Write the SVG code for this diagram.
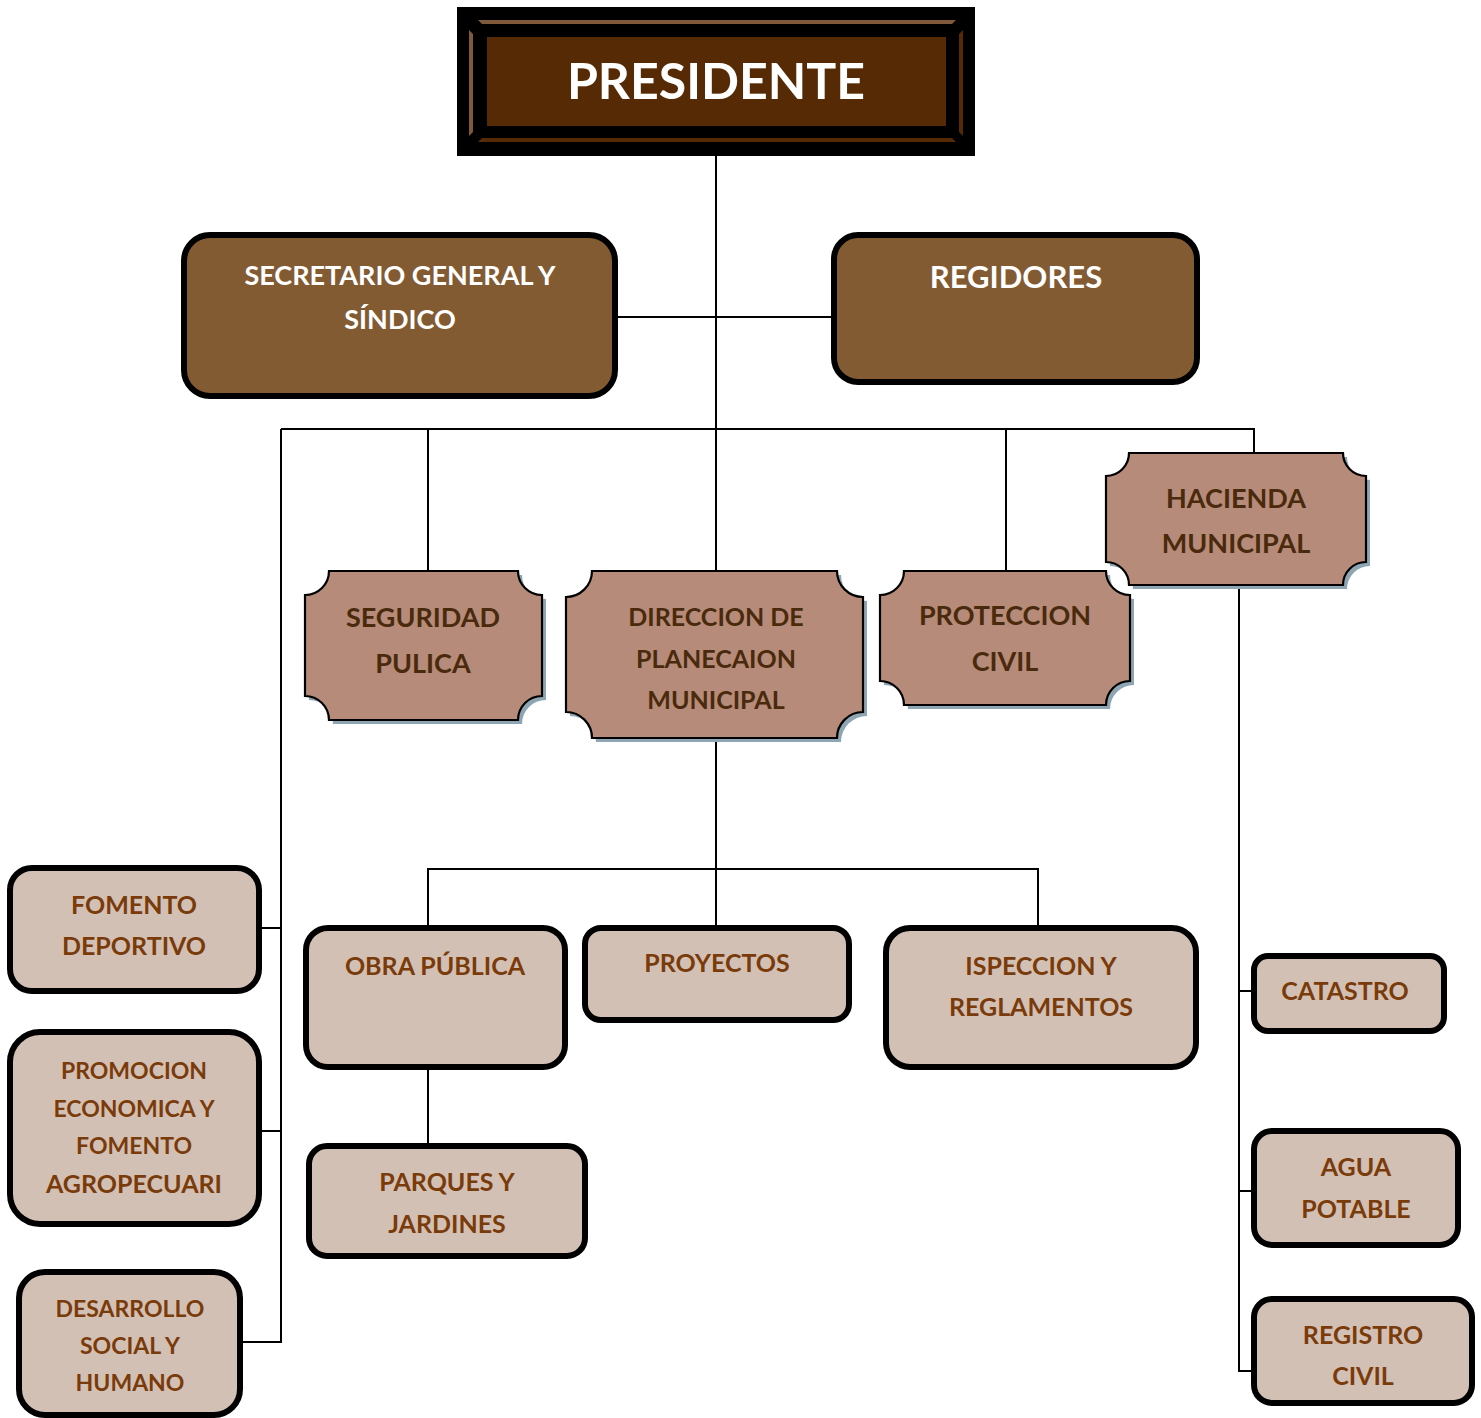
<svg xmlns="http://www.w3.org/2000/svg" width="1481" height="1418" viewBox="0 0 1481 1418">
<style>
text{font-family:Lato,"Open Sans","Liberation Sans",sans-serif;font-weight:bold;text-anchor:middle}
.dark{fill:#835B33;stroke:#000;stroke-width:6}
.lt{fill:#D3C0B5;stroke:#000;stroke-width:6}
.pl{fill:#B68B79;stroke:#000;stroke-width:2.2}
.sh{fill:#8EA6B3}
.w{fill:#fff}
.db{fill:#4A2A0C}
.lb{fill:#7A3B0A}
#connectors path{fill:none;stroke:#000;stroke-width:2}
</style>
<rect width="1481" height="1418" fill="#fff"/>
<g id="connectors">
<path d="M716 156V571"/>
<path d="M615 317H834"/>
<path d="M281 429H1254V453"/>
<path d="M428 429V571"/>
<path d="M1006 429V571"/>
<path d="M281 429V1342H240"/>
<path d="M260 928H281"/>
<path d="M260 1131H281"/>
<path d="M716 738V928"/>
<path d="M428 928V869H1038V928"/>
<path d="M428 1067V1146"/>
<path d="M1239 585V1371H1254"/>
<path d="M1239 991H1254"/>
<path d="M1239 1191H1254"/>
</g>
<g id="presidente">
<rect x="457" y="7" width="518" height="149" fill="#000"/>
<polygon points="478,20 956,20 952,24 482,24" fill="#7F5A3A"/>
<polygon points="469,30 473,34 473,132 469,136" fill="#7F5A3A"/>
<polygon points="963,30 959,34 959,132 963,136" fill="#552A04"/>
<polygon points="482,138 952,138 956,142 478,142" fill="#552A04"/>
<rect x="487" y="37" width="459" height="89" fill="#552A04"/>
<text x="716" y="99" font-size="50" class="w">PRESIDENTE</text>
</g>
<g id="secretario">
<rect x="184" y="235" width="431" height="161" rx="26" class="dark"/>
<text x="400" y="285" font-size="27" class="w">SECRETARIO GENERAL Y</text>
<text x="400" y="329" font-size="27" class="w">SÍNDICO</text>
</g>
<g id="regidores">
<rect x="834" y="235" width="363" height="147" rx="24" class="dark"/>
<text x="1016" y="288" font-size="31" class="w">REGIDORES</text>
</g>
<g id="seguridad">
<path class="sh" transform="translate(4,4)" d="M329 571H518A24 24 0 0 0 542 595V696A24 24 0 0 0 518 720H329A24 24 0 0 0 305 696V595A24 24 0 0 0 329 571Z"/>
<path class="pl" d="M329 571H518A24 24 0 0 0 542 595V696A24 24 0 0 0 518 720H329A24 24 0 0 0 305 696V595A24 24 0 0 0 329 571Z"/>
<text x="423" y="627" font-size="27" class="db">SEGURIDAD</text>
<text x="423" y="673" font-size="27" class="db">PULICA</text>
</g>
<g id="direccion">
<path class="sh" transform="translate(4,4)" d="M592 571H837A26 26 0 0 0 863 597V712A26 26 0 0 0 837 738H592A26 26 0 0 0 566 712V597A26 26 0 0 0 592 571Z"/>
<path class="pl" d="M592 571H837A26 26 0 0 0 863 597V712A26 26 0 0 0 837 738H592A26 26 0 0 0 566 712V597A26 26 0 0 0 592 571Z"/>
<text x="716" y="626" font-size="25" class="db">DIRECCION DE</text>
<text x="716" y="668" font-size="25" class="db">PLANECAION</text>
<text x="716" y="709" font-size="25" class="db">MUNICIPAL</text>
</g>
<g id="proteccion">
<path class="sh" transform="translate(4,4)" d="M904 571H1106A24 24 0 0 0 1130 595V681A24 24 0 0 0 1106 705H904A24 24 0 0 0 880 681V595A24 24 0 0 0 904 571Z"/>
<path class="pl" d="M904 571H1106A24 24 0 0 0 1130 595V681A24 24 0 0 0 1106 705H904A24 24 0 0 0 880 681V595A24 24 0 0 0 904 571Z"/>
<text x="1005" y="625" font-size="27" class="db">PROTECCION</text>
<text x="1005" y="671" font-size="27" class="db">CIVIL</text>
</g>
<g id="hacienda">
<path class="sh" transform="translate(4,4)" d="M1129 453H1343A23 23 0 0 0 1366 476V562A23 23 0 0 0 1343 585H1129A23 23 0 0 0 1106 562V476A23 23 0 0 0 1129 453Z"/>
<path class="pl" d="M1129 453H1343A23 23 0 0 0 1366 476V562A23 23 0 0 0 1343 585H1129A23 23 0 0 0 1106 562V476A23 23 0 0 0 1129 453Z"/>
<text x="1236" y="508" font-size="27" class="db">HACIENDA</text>
<text x="1236" y="553" font-size="27" class="db">MUNICIPAL</text>
</g>
<g id="fomento">
<rect x="10" y="868" width="249" height="123" rx="22" class="lt"/>
<text x="134" y="914" font-size="25" class="lb">FOMENTO</text>
<text x="134" y="955" font-size="25" class="lb">DEPORTIVO</text>
</g>
<g id="promocion">
<rect x="10" y="1032" width="249" height="192" rx="30" class="lt"/>
<text x="134" y="1079" font-size="23" class="lb">PROMOCION</text>
<text x="134" y="1117" font-size="23" class="lb">ECONOMICA Y</text>
<text x="134" y="1154" font-size="23" class="lb">FOMENTO</text>
<text x="134" y="1193" font-size="25" class="lb">AGROPECUARI</text>
</g>
<g id="desarrollo">
<rect x="19" y="1272" width="221" height="143" rx="26" class="lt"/>
<text x="130" y="1317" font-size="23" class="lb">DESARROLLO</text>
<text x="130" y="1354" font-size="23" class="lb">SOCIAL Y</text>
<text x="130" y="1391" font-size="23" class="lb">HUMANO</text>
</g>
<g id="obra">
<rect x="306" y="928" width="259" height="139" rx="22" class="lt"/>
<text x="435" y="975" font-size="25" class="lb">OBRA PÚBLICA</text>
</g>
<g id="proyectos">
<rect x="585" y="928" width="264" height="92" rx="16" class="lt"/>
<text x="717" y="972" font-size="25" class="lb">PROYECTOS</text>
</g>
<g id="ispeccion">
<rect x="886" y="928" width="310" height="139" rx="24" class="lt"/>
<text x="1041" y="975" font-size="25" class="lb">ISPECCION Y</text>
<text x="1041" y="1016" font-size="25" class="lb">REGLAMENTOS</text>
</g>
<g id="parques">
<rect x="309" y="1146" width="276" height="110" rx="18" class="lt"/>
<text x="447" y="1191" font-size="25" class="lb">PARQUES Y</text>
<text x="447" y="1233" font-size="25" class="lb">JARDINES</text>
</g>
<g id="catastro">
<rect x="1254" y="956" width="190" height="75" rx="14" class="lt"/>
<text x="1345" y="1000" font-size="25" class="lb">CATASTRO</text>
</g>
<g id="agua">
<rect x="1254" y="1131" width="204" height="114" rx="18" class="lt"/>
<text x="1356" y="1176" font-size="25" class="lb">AGUA</text>
<text x="1356" y="1218" font-size="25" class="lb">POTABLE</text>
</g>
<g id="registro">
<rect x="1254" y="1299" width="218" height="104" rx="18" class="lt"/>
<text x="1363" y="1344" font-size="25" class="lb">REGISTRO</text>
<text x="1363" y="1385" font-size="25" class="lb">CIVIL</text>
</g>
</svg>
